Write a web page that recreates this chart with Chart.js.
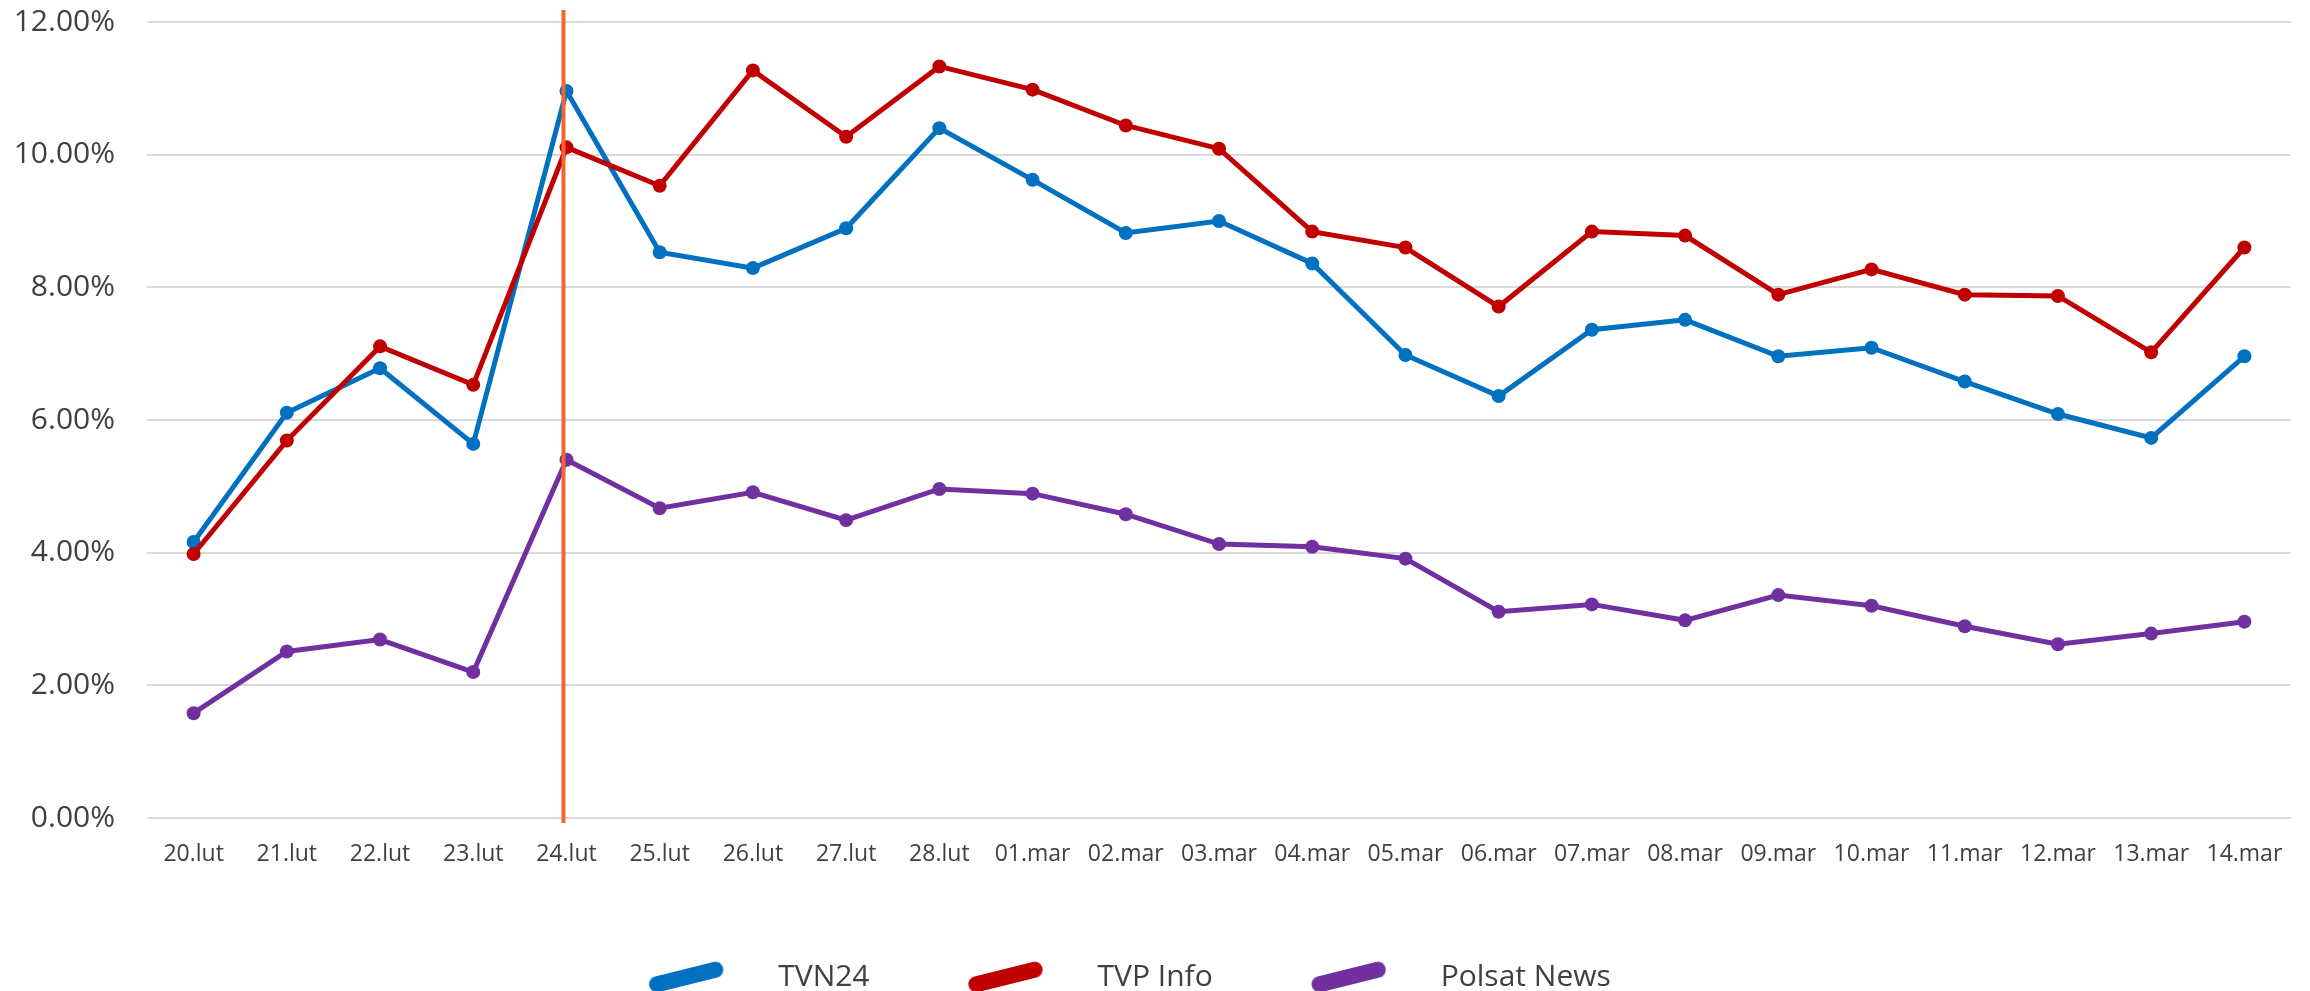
<!DOCTYPE html>
<html>
<head>
<meta charset="utf-8">
<script src="https://cdn.jsdelivr.net/npm/chart.js@4.4.0/dist/chart.umd.min.js"></script>
<style>
  html, body { margin: 0; padding: 0; background: #fff; overflow: hidden; width: 2310px; height: 991px; }
  #wrap { position: absolute; left: -71px; top: 0; width: 2381px; height: 1002px; }
</style>
</head>
<body>
<div id="wrap"><canvas id="chart"></canvas></div>
<script>
// days on the x axis
const labels = [
  '20.lut', '21.lut', '22.lut', '23.lut', '24.lut', '25.lut', '26.lut', '27.lut', '28.lut',
  '01.mar', '02.mar', '03.mar', '04.mar', '05.mar', '06.mar', '07.mar', '08.mar', '09.mar',
  '10.mar', '11.mar', '12.mar', '13.mar', '14.mar'
];

// share in %
const tvn24 = [4.16, 6.11, 6.78, 5.64, 10.96, 8.53, 8.29, 8.89, 10.40, 9.62, 8.82, 9.00,
  8.36, 6.98, 6.36, 7.36, 7.51, 6.96, 7.09, 6.58, 6.09, 5.73, 6.96];
const tvpInfo = [3.98, 5.69, 7.11, 6.53, 10.11, 9.53, 11.27, 10.27, 11.33, 10.98, 10.44, 10.09,
  8.84, 8.60, 7.71, 8.84, 8.78, 7.89, 8.27, 7.89, 7.87, 7.02, 8.60];
const polsatNews = [1.58, 2.51, 2.69, 2.20, 5.40, 4.67, 4.91, 4.49, 4.96, 4.89, 4.58, 4.13,
  4.09, 3.91, 3.11, 3.22, 2.98, 3.36, 3.20, 2.89, 2.62, 2.78, 2.96];

const seriesNames = ['TVN24', 'TVP Info', 'Polsat News'];
const seriesColors = ['#0070C0', '#C00000', '#7030A0'];

// y axis range
const yMin = 0;
const yMax = 12;
const yStep = 2;

// the day marked with the vertical line
const markerDay = '24.lut';

const textColor = '#404040';
const fontFamily = '"Open Sans", "Noto Sans", sans-serif';

// slanted rounded swatch for the legend
function makeSwatch(color) {
  const c = document.createElement('canvas');
  c.width = 80;
  c.height = 20;
  const g = c.getContext('2d');
  g.strokeStyle = color;
  g.lineWidth = 16;
  g.lineCap = 'round';
  g.beginPath();
  g.moveTo(10, 10);
  g.lineTo(70, 10);
  g.stroke();
  return c;
}
const swatches = seriesColors.map(makeSwatch);

// vertical line on the marked day
const markerLine = {
  id: 'markerLine',
  afterDatasetsDraw(chart) {
    const { ctx, chartArea, scales: { x } } = chart;
    const px = x.getPixelForValue(labels.indexOf(markerDay)) - 3;
    ctx.save();
    ctx.strokeStyle = '#F26430';
    ctx.lineWidth = 4;
    ctx.beginPath();
    ctx.moveTo(px, chartArea.top - 12);
    ctx.lineTo(px, chartArea.bottom + 5);
    ctx.stroke();
    ctx.restore();
  }
};

const makeDataset = (i, data, order) => ({
  label: seriesNames[i],
  data: data,
  borderColor: seriesColors[i],
  backgroundColor: seriesColors[i],
  pointBackgroundColor: seriesColors[i],
  pointBorderWidth: 0,
  pointRadius: 7,
  borderWidth: 5,
  tension: 0,
  fill: false,
  order: order,
});

Chart.defaults.font.family = fontFamily;
Chart.defaults.color = textColor;

new Chart(document.getElementById('chart'), {
  type: 'line',
  data: {
    labels: labels,
    datasets: [
      makeDataset(0, tvn24, 3),
      makeDataset(1, tvpInfo, 2),
      makeDataset(2, polsatNews, 1),
    ],
  },
  options: {
    responsive: true,
    maintainAspectRatio: false,
    animation: false,
    devicePixelRatio: 1,
    layout: { padding: { left: 0, right: 19, top: 22, bottom: 0 } },
    plugins: {
      tooltip: { enabled: false },
      legend: {
        position: 'bottom',
        labels: {
          usePointStyle: true,
          pointStyleWidth: 154,
          padding: 59,
          color: textColor,
          font: { size: 30, family: fontFamily },
          generateLabels: () => seriesNames.map((name, i) => ({
            text: name,
            fillStyle: seriesColors[i],
            strokeStyle: seriesColors[i],
            lineWidth: 0,
            pointStyle: swatches[i],
            rotation: -14,
            hidden: false,
            datasetIndex: i,
            fontColor: textColor,
          })),
        },
      },
    },
    scales: {
      x: {
        offset: true,
        grid: { display: false, drawTicks: false, offset: true },
        border: { display: false },
        ticks: {
          color: textColor,
          font: { size: 23 },
          padding: 23,
          maxRotation: 0,
          autoSkip: false,
        },
        afterFit: (scale) => {
          scale.height = 85;
          scale.paddingLeft = 0;
          scale.paddingRight = 0;
        },
      },
      y: {
        min: yMin,
        max: yMax,
        grid: { color: '#D9D9D9', lineWidth: 2, drawTicks: false },
        border: { display: false },
        ticks: {
          stepSize: yStep,
          color: textColor,
          font: { size: 30 },
          padding: 32,
          callback: (v) => v.toFixed(2) + '%',
        },
        afterFit: (scale) => {
          scale.width = 218;
          scale.paddingTop = 0;
          scale.paddingBottom = 0;
        },
      },
    },
  },
  plugins: [markerLine],
});
</script>
</body>
</html>
